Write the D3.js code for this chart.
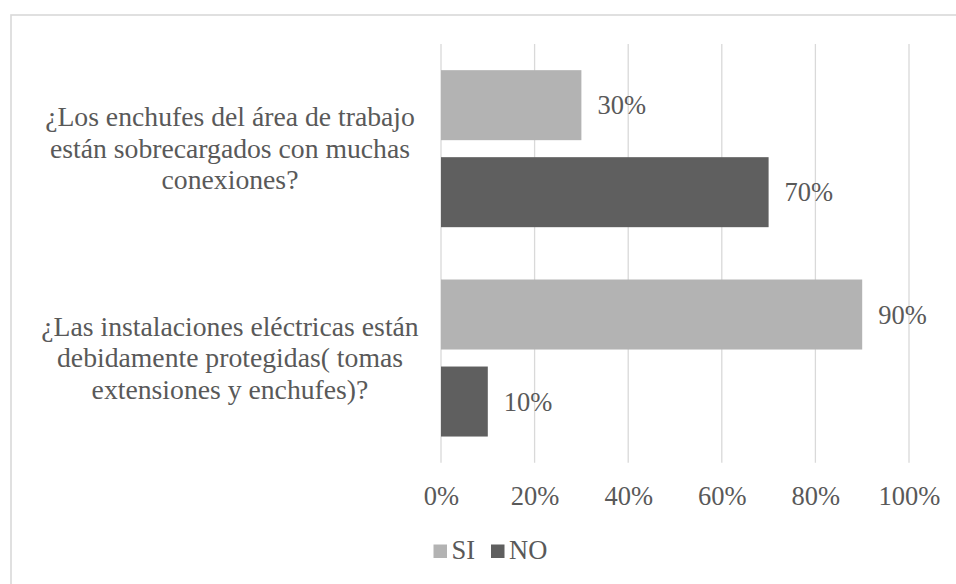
<!DOCTYPE html>
<html>
<head>
<meta charset="utf-8">
<script src="https://cdn.jsdelivr.net/npm/d3@7"></script>
<style>
  html, body { margin: 0; padding: 0; background: #fff; }
  svg { display: block; }
  text { font-family: "Liberation Serif", "Times New Roman", serif; fill: #595959; }
</style>
</head>
<body>
<svg id="chart" width="956" height="584"></svg>
<script>
// Survey answers per question (percent)
const categories = [
  "¿Los enchufes del área de trabajo\nestán sobrecargados con muchas\nconexiones?",
  "¿Las instalaciones eléctricas están\ndebidamente protegidas( tomas\nextensiones y enchufes)?"
];
const seriesNames = ["SI", "NO"];
const siValues = [30, 90];
const noValues = [70, 10];
const tickValues = [0, 20, 40, 60, 80, 100];
const seriesColors = ["#b3b3b3", "#5f5f5f"];

const rows = categories.map((c, i) => ({ cat: c, values: [siValues[i], noValues[i]] }));

const svg = d3.select("#chart");
const plot = { left: 441, right: 909, top: 44, bottom: 462.7 };
const fontSize = 26.5;
const catFontSize = 27.7;

// Chart frame
svg.append("rect")
  .attr("x", 11).attr("y", 15)
  .attr("width", 980).attr("height", 620)
  .attr("fill", "none").attr("stroke", "#d9d9d9").attr("stroke-width", 1.6);

const x = d3.scaleLinear().domain([0, 100]).range([plot.left, plot.right]);
const y0 = d3.scaleBand().domain(categories).range([plot.top, plot.bottom])
  .paddingInner(0.25).paddingOuter(0.125);
const y1 = d3.scaleBand().domain(seriesNames).range([0, y0.bandwidth()]).paddingInner(0.1954);
const color = d3.scaleOrdinal().domain(seriesNames).range(seriesColors);

// Vertical gridlines
svg.append("g")
  .selectAll("line").data(tickValues).join("line")
  .attr("x1", d => x(d)).attr("x2", d => x(d))
  .attr("y1", plot.top).attr("y2", plot.bottom)
  .attr("stroke", "#d9d9d9").attr("stroke-width", 1.3);

// Value axis labels
const xAxis = d3.axisBottom(x).tickValues(tickValues).tickFormat(d => d + "%").tickSize(0).tickPadding(0);
const gx = svg.append("g").attr("transform", `translate(0,${plot.bottom})`).call(xAxis);
gx.select(".domain").remove();
gx.selectAll("text")
  .attr("y", 42).attr("dy", null)
  .style("font-family", '"Liberation Serif", "Times New Roman", serif')
  .style("font-size", fontSize + "px").attr("fill", "#595959");

// Bars
const groups = svg.append("g").selectAll("g").data(rows).join("g")
  .attr("transform", d => `translate(0,${y0(d.cat)})`);

groups.selectAll("rect")
  .data(d => d.values.map((v, i) => ({ key: seriesNames[i], v })))
  .join("rect")
  .attr("x", x(0))
  .attr("y", d => y1(d.key))
  .attr("width", d => x(d.v) - x(0))
  .attr("height", y1.bandwidth())
  .attr("fill", d => color(d.key));

// Data labels
groups.selectAll("text.val")
  .data(d => d.values.map((v, i) => ({ key: seriesNames[i], v })))
  .join("text")
  .attr("class", "val")
  .attr("x", d => x(d.v) + 16)
  .attr("y", d => y1(d.key) + y1.bandwidth() / 2 + 9)
  .style("font-size", fontSize + "px")
  .text(d => d.v + "%");

// Category labels
const catG = svg.append("g");
rows.forEach(r => {
  const lines = r.cat.split("\n");
  const cy = y0(r.cat) + y0.bandwidth() / 2;
  const lh = 31.5;
  const t = catG.append("text")
    .attr("text-anchor", "middle")
    .style("font-size", catFontSize + "px");
  lines.forEach((ln, i) => {
    t.append("tspan")
      .attr("x", 230)
      .attr("y", cy + (i - (lines.length - 1) / 2) * lh + 9)
      .text(ln);
  });
});

// Legend
const legendItems = [
  { key: "SI", sx: 433.5, tx: 451.5 },
  { key: "NO", sx: 491, tx: 509 }
];
const lg = svg.append("g");
legendItems.forEach(it => {
  lg.append("rect").attr("x", it.sx).attr("y", 544.5)
    .attr("width", 13.5).attr("height", 13.5).attr("fill", color(it.key));
  lg.append("text").attr("x", it.tx).attr("y", 559)
    .style("font-size", fontSize + "px").text(it.key);
});
</script>
</body>
</html>
